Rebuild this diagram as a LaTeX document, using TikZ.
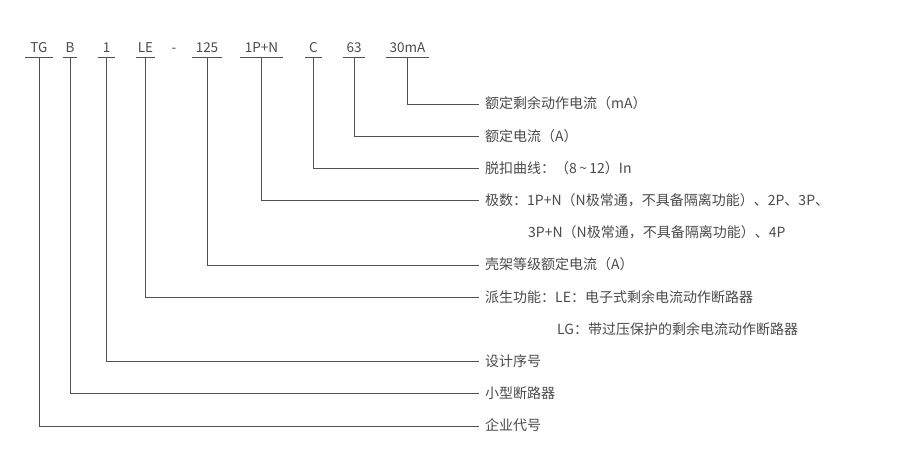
\documentclass[tikz,border=0pt]{standalone}
\usepackage{fontspec}
\setmainfont{Noto Sans CJK SC}
\definecolor{txtc}{HTML}{4A4A4A}
\definecolor{linec}{HTML}{505050}
\begin{document}
\begin{tikzpicture}[x=1pt,y=1pt,
  code/.style={font=\fontsize{13.5}{14}\selectfont, text=txtc, anchor=south, inner ysep=5pt, inner xsep=0pt, text height=9.5pt, text depth=0pt},
  desc/.style={font=\fontsize{14}{16}\selectfont, text=txtc, anchor=west, inner xsep=6pt, inner ysep=0pt, text height=9.6pt, text depth=0pt},
  cont/.style={font=\fontsize{14}{16}\selectfont, text=txtc, anchor=west, inner xsep=0pt, inner ysep=0pt, text height=9.6pt, text depth=0pt},
  uline/.style={draw=linec, line width=0.8pt},
  conn/.style={draw=linec, line width=0.8pt}]
\useasboundingbox (0,0) rectangle (900,-472);
% top code labels
\node[code, minimum width=28pt] (t1) at (39,-57.5) {TG};
\node[code, minimum width=14pt] (t2) at (70,-57.5) {B};
\node[code, minimum width=17pt] (t3) at (106.5,-57.5) {1};
\node[code, minimum width=19pt] (t4) at (145.5,-57.5) {LE};
\node[code] (hy) at (174,-57.5) {-};
\node[code, minimum width=30pt] (t5) at (207,-57.5) {125};
\node[code, minimum width=43pt] (t6) at (261.5,-57.5) {1P+N};
\node[code, minimum width=17pt] (t7) at (313.5,-57.5) {C};
\node[code, minimum width=22pt] (t8) at (354,-57.5) {63};
\node[code, minimum width=43pt] (t9) at (407.5,-57.5) {30mA};
\foreach \n in {t1,t2,t3,t4,t5,t6,t7,t8,t9}
  \draw[uline] (\n.south west) -- (\n.south east);
% descriptions
\node[desc] (d9) at (479,-104) {额定剩余动作电流（mA）};
\node[desc] (d8) at (479,-136.2) {额定电流（A）};
\node[desc] (d7) at (479,-168.4) {脱扣曲线：（8\,\textasciitilde\,12）In};
\node[desc] (d6) at (479,-200.6) {极数：1P+N（N极常通，不具备隔离功能）、2P、3P、};
\node[cont] (c6) at (528,-232.8) {3P+N（N极常通，不具备隔离功能）、4P};
\node[desc] (d5) at (479,-265) {壳架等级额定电流（A）};
\node[desc] (d4) at (479,-297.2) {派生功能：LE：电子式剩余电流动作断路器};
\node[cont] (c4) at (557,-329.4) {LG：带过压保护的剩余电流动作断路器};
\node[desc] (d3) at (479,-361.6) {设计序号};
\node[desc] (d2) at (479,-393.8) {小型断路器};
\node[desc] (d1) at (479,-426) {企业代号};
% connectors
\foreach \i in {1,...,9}
  \draw[conn] (t\i.south) |- (d\i.west);
\end{tikzpicture}
\end{document}
